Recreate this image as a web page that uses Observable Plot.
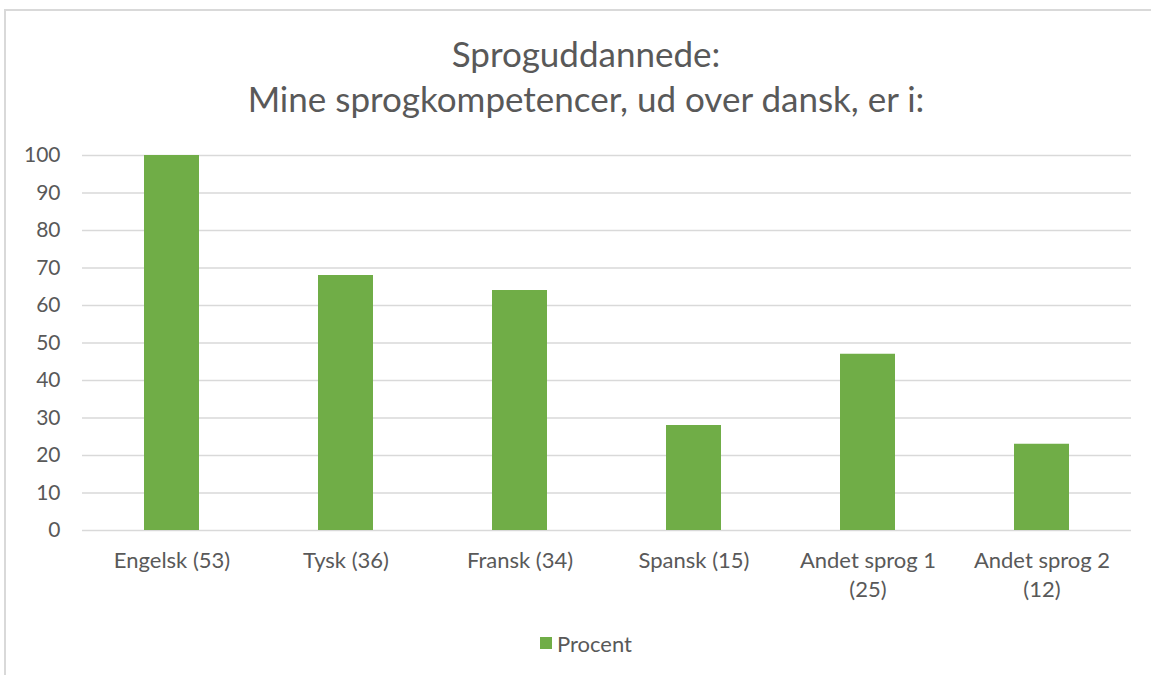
<!DOCTYPE html>
<html><head><meta charset="utf-8">
<script src="https://cdn.jsdelivr.net/npm/d3@7"></script>
<script src="https://cdn.jsdelivr.net/npm/@observablehq/plot@0.6"></script>
<style>
body{margin:0;background:#fff;font-family:Lato, "Open Sans", sans-serif;overflow:hidden;}
#frame{position:absolute;left:4px;top:9px;width:1170px;height:720px;border:2px solid #d9d9d9;box-sizing:border-box;}
#title{position:absolute;left:0;width:1172px;top:31px;text-align:center;color:#595959;font-size:35px;line-height:45px;}
#chart{position:absolute;left:0;top:130px;}
#legend{position:absolute;left:540px;top:630px;height:26px;display:flex;align-items:center;color:#595959;font-size:22px;}
#legend .sw{width:12px;height:12px;background:#70AD47;margin-right:5px;}
</style>
</head><body>
<div id="frame"></div>
<div id="title">Sproguddannede:<br>Mine sprogkompetencer, ud over dansk, er i:</div>
<div id="chart"></div>
<div id="legend"><span class="sw"></span><span id="legendLabel"></span></div>
<script>
const categories = ["Engelsk (53)", "Tysk (36)", "Fransk (34)", "Spansk (15)", "Andet sprog 1 (25)", "Andet sprog 2 (12)"];
const tickLabels = ["Engelsk (53)", "Tysk (36)", "Fransk (34)", "Spansk (15)", "Andet sprog 1\n(25)", "Andet sprog 2\n(12)"];
const values = [100, 68, 64, 28, 47, 23];
const yTicks = [0, 10, 20, 30, 40, 50, 60, 70, 80, 90, 100];
const seriesName = "Procent";

document.getElementById("legendLabel").textContent = seriesName;
const data = categories.map((c, i) => ({category: c, value: values[i]}));
const labelOf = new Map(categories.map((c, i) => [c, tickLabels[i]]));

const chart = Plot.plot({
  width: 1151,
  height: 480,
  marginTop: 25,
  marginBottom: 80,
  marginLeft: 82,
  marginRight: 20,
  style: {fontFamily: "Lato, 'Open Sans', sans-serif", color: "#595959", background: "transparent"},
  x: {domain: categories, paddingInner: 0.685, paddingOuter: 0.3425, label: null},
  y: {domain: [0, 100], label: null},
  marks: [
    Plot.ruleY(yTicks, {stroke: "#d9d9d9", strokeWidth: 1.5}),
    Plot.barY(data, {x: "category", y: "value", fill: "#70AD47"}),
    Plot.axisY({ticks: yTicks, tickSize: 0, tickPadding: 22, fontSize: 21, label: null}),
    Plot.axisX({tickSize: 0, tickPadding: 17, fontSize: 22, lineHeight: 1.32, tickFormat: d => labelOf.get(d), label: null})
  ]
});
document.getElementById("chart").appendChild(chart);
</script>
</body></html>
